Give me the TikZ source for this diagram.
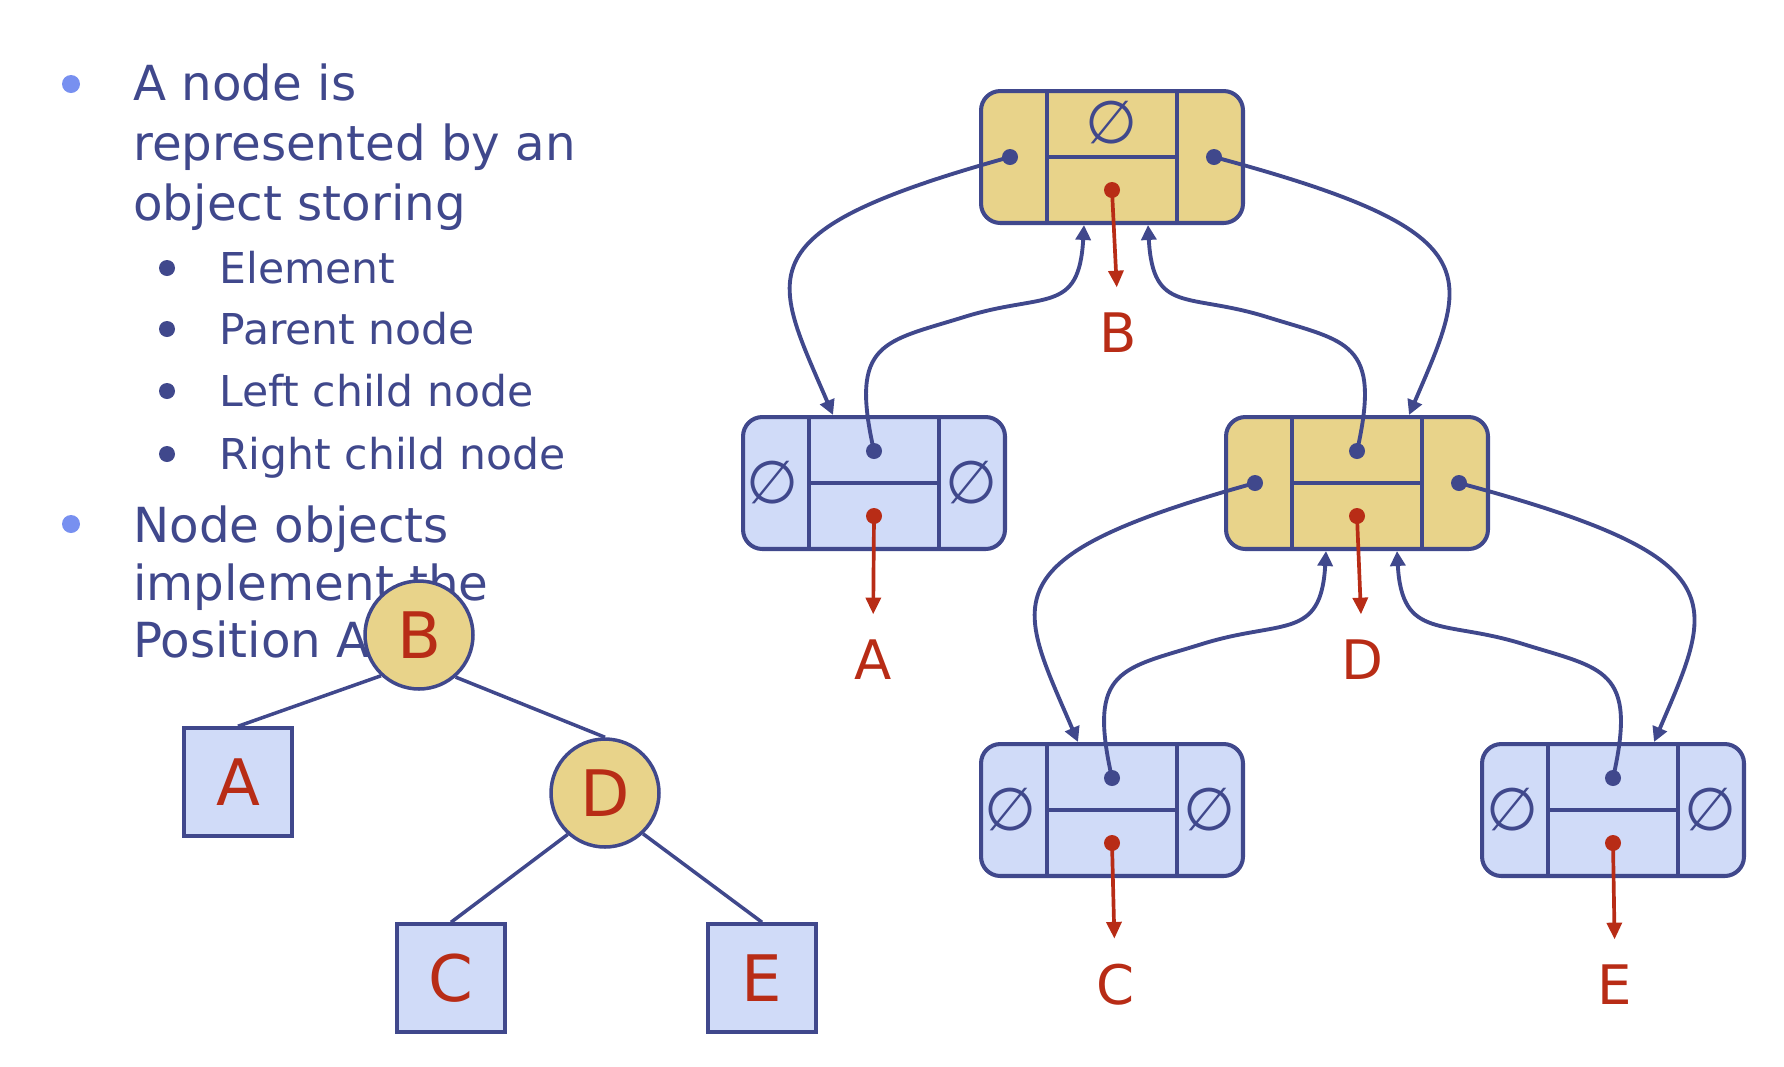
\documentclass[tikz,border=0pt]{standalone}
\usepackage{fontspec}
\setmainfont{DejaVu Sans}
\usetikzlibrary{arrows.meta,calc}

\definecolor{navy}{RGB}{64,72,140}
\definecolor{elemred}{RGB}{184,44,22}
\definecolor{gold}{RGB}{232,211,138}
\definecolor{pale}{RGB}{208,219,248}
\definecolor{dotblue}{RGB}{120,144,240}

\tikzset{
  main/.style={text=navy, font=\fontsize{27.5}{33}\selectfont, anchor=base west, inner sep=0pt},
  sub/.style={text=navy, font=\fontsize{24.2}{29}\selectfont, anchor=base west, inner sep=0pt},
  pbox/.style={draw=navy, line width=2.3pt, rounded corners=11pt,
    minimum width=5.24cm, minimum height=2.64cm, inner sep=0pt},
  pline/.style={navy, line width=2.3pt},
  nul/.style={text=navy, font=\fontsize{34}{34}\selectfont, inner sep=0pt},
  lbl/.style={text=elemred, font=\fontsize{31}{31}\selectfont, inner sep=0pt},
  link/.style={navy, line width=2.2pt, -{Triangle[length=8.5pt,width=8.5pt]}},
  elem/.style={elemred, line width=2.1pt, -{Triangle[length=9.5pt,width=8.5pt]}, shorten >=14.5pt},
  tnode/.style={draw=navy, line width=2pt, minimum size=2.16cm, inner sep=0pt,
    text=elemred, font=\fontsize{36.5}{36.5}\selectfont},
  tcirc/.style={tnode, circle, fill=gold},
  tsq/.style={tnode, fill=pale},
  tedge/.style={navy, line width=2pt}
}

% one position object: name, x, y, fill
\newcommand{\posbox}[4]{%
  \node[pbox, fill=#4] (#1) at (#2,#3) {};
  \draw[pline] ($(#1.north)+(-65,0)$) -- ($(#1.south)+(-65,0)$);
  \draw[pline] ($(#1.north)+(65,0)$) -- ($(#1.south)+(65,0)$);
  \draw[pline] ($(#1)+(-65,0)$) -- ($(#1)+(65,0)$);
  \coordinate (#1-l) at ($(#1)+(-102,0)$);
  \coordinate (#1-r) at ($(#1)+(102,0)$);
  \coordinate (#1-p) at ($(#1)+(0,32)$);
  \coordinate (#1-e) at ($(#1)+(0,-33)$);
}

\begin{document}
\begin{tikzpicture}[x=0.02cm,y=0.02cm]
  \useasboundingbox (0,0) rectangle (1784,-1066);

  % bullet text
  \fill[dotblue] (71,-84) circle (9);
  \node[main] (p1a) at (133,-100) {A node is};
  \node[main] (p1b) at (133,-160) {represented by an};
  \node[main] (p1c) at (133,-220) {object storing};
  \foreach \t/\y [count=\i] in {Element/283, Parent node/344, Left child node/406, Right child node/469}{
    \fill[navy] (167,{-\y+15}) circle (8);
    \node[sub] (s\i) at (219,-\y) {\t};
  }
  \fill[dotblue] (71,-524) circle (9);
  \node[main] (p2a) at (133,-542) {Node objects};
  \node[main] (p2b) at (133,-600) {implement the};
  \node[main] (p2c) at (133,-657) {Position A};

  % small tree
  \node[tcirc] (tB) at (419,-635) {B};
  \node[tcirc] (tD) at (605,-793) {D};
  \node[tsq] (tA) at (238,-782) {A};
  \node[tsq] (tC) at (451,-978) {C};
  \node[tsq] (tE) at (762,-978) {E};
  \draw[tedge] (tB.227) -- (tA.north);
  \draw[tedge] (tB.311) -- (tD.north);
  \draw[tedge] (tD.228) -- (tC.north);
  \draw[tedge] (tD.313) -- (tE.north);

  % linked structure
  \posbox{nB}{1112}{-157}{gold}
  \posbox{nA}{874}{-483}{pale}
  \posbox{nD}{1357}{-483}{gold}
  \posbox{nC}{1112}{-810}{pale}
  \posbox{nE}{1613}{-810}{pale}

  \node[nul] (nB-x) at ($(nB)+(0,34)$) {∅};
  \node[nul] (nA-xl) at ($(nA)+(-101,0)$) {∅};
  \node[nul] (nA-xr) at ($(nA)+(98,0)$) {∅};
  \node[nul] (nC-xl) at ($(nC)+(-101,0)$) {∅};
  \node[nul] (nC-xr) at ($(nC)+(97,0)$) {∅};
  \node[nul] (nE-xl) at ($(nE)+(-101,0)$) {∅};
  \node[nul] (nE-xr) at ($(nE)+(97,0)$) {∅};

  \node[lbl] (lB) at (1118,-333) {B};
  \node[lbl] (lA) at (873,-660) {A};
  \node[lbl] (lD) at (1362,-660) {D};
  \node[lbl] (lC) at (1115,-985) {C};
  \node[lbl] (lE) at (1615,-985) {E};

  % children
  \draw[link] (nB-l) .. controls +(-270,-75) and +(-61,142) .. ($(nA.north)+(-41,0)$);
  \draw[link] (nD-l) .. controls +(-270,-75) and +(-61,142) .. ($(nC.north)+(-34,0)$);
  \draw[link] (nB-r) .. controls +(280,-75) and +(61,142) .. ($(nD.north)+(52,0)$);
  \draw[link] (nD-r) .. controls +(280,-75) and +(61,142) .. ($(nE.north)+(41,0)$);

  % parents
  \draw[link] (nA-p) .. controls +(-25,110) and +(-80,-25) .. ($(nA-p)+(90,134)$)
    .. controls +(80,25) and +(-5,-90) .. ($(nB.south)+(-28,0)$);
  \draw[link] (nC-p) .. controls +(-25,110) and +(-80,-25) .. ($(nC-p)+(90,134)$)
    .. controls +(80,25) and +(-5,-90) .. ($(nD.south)+(-31,0)$);
  \draw[link] (nD-p) .. controls +(25,110) and +(80,-25) .. ($(nD-p)+(-90,134)$)
    .. controls +(-80,25) and +(5,-90) .. ($(nB.south)+(36,0)$);
  \draw[link] (nE-p) .. controls +(25,110) and +(80,-25) .. ($(nE-p)+(-90,134)$)
    .. controls +(-80,25) and +(5,-90) .. ($(nD.south)+(40,0)$);

  % elements
  \draw[elem] (nB-e) -- (lB.north);
  \draw[elem] (nA-e) -- (lA.north);
  \draw[elem] (nD-e) -- (lD.north);
  \draw[elem] (nC-e) -- (lC.north);
  \draw[elem] (nE-e) -- (lE.north);

  \foreach \c in {nB-l, nB-r, nA-p, nD-p, nD-l, nD-r, nC-p, nE-p}
    \fill[navy] (\c) circle (8);
  \foreach \c in {nB-e, nA-e, nD-e, nC-e, nE-e}
    \fill[elemred] (\c) circle (8);
\end{tikzpicture}
\end{document}
